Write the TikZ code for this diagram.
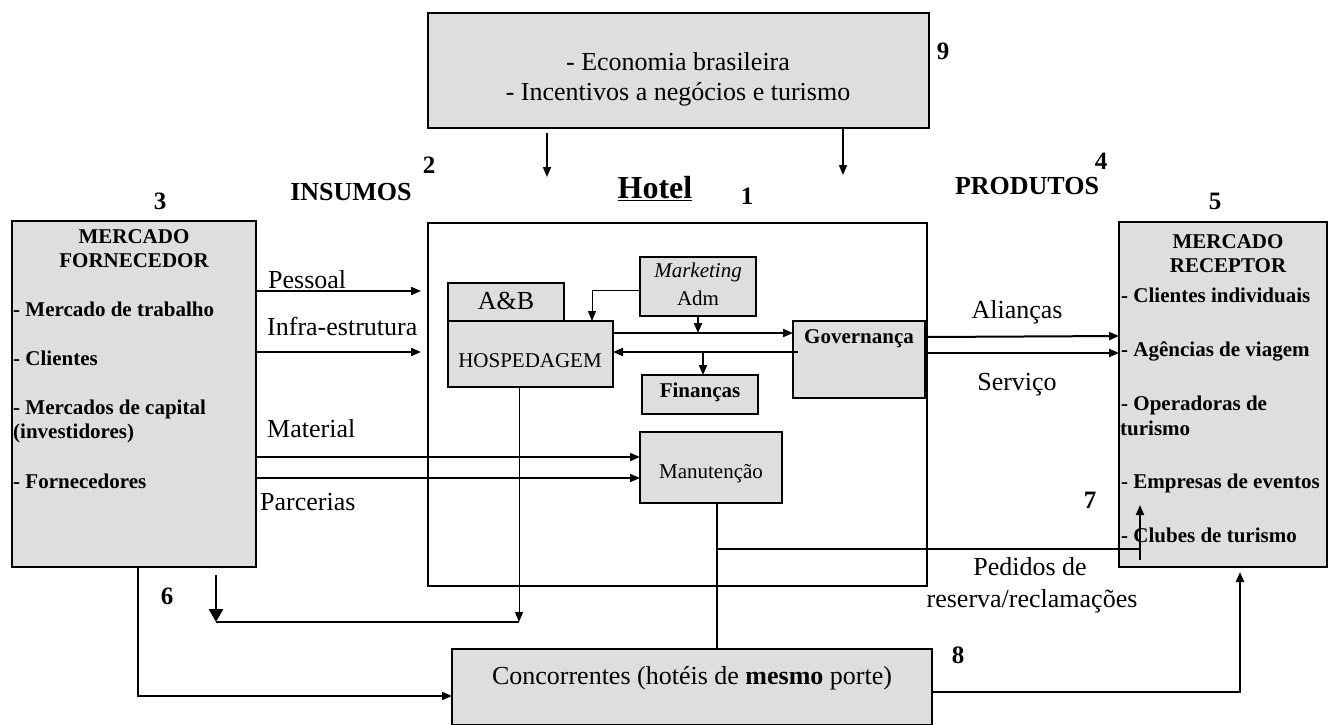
\documentclass[tikz,border=0pt]{standalone}
\usepackage{fontspec}
\setmainfont{Liberation Serif}
\usetikzlibrary{arrows.meta}
\definecolor{boxgray}{RGB}{222,222,222}
\newcommand{\sz}[1]{\fontsize{#1}{#1}\selectfont}

\begin{document}
\begin{tikzpicture}[x=1pt,y=-1pt,
  box/.style={draw, line width=2.5pt, fill=boxgray, inner sep=0pt, outer sep=0pt, anchor=north west},
  frame/.style={draw, line width=2pt, inner sep=0pt, outer sep=0pt, anchor=north west},
  txt/.style={inner sep=0pt, anchor=base, font=\sz{26}},
  txtl/.style={txt, anchor=base west},
  tsmall/.style={inner sep=0pt, anchor=base, font=\sz{21}},
  tsmallb/.style={inner sep=0pt, anchor=base, font=\bfseries\sz{21}},
  tsmallbl/.style={tsmallb, anchor=base west},
  numlbl/.style={inner sep=0pt, anchor=base, font=\bfseries\sz{25}},
  headlbl/.style={inner sep=0pt, anchor=base, font=\bfseries\sz{26}},
  conn/.style={line width=2pt, -{Triangle[length=10pt,width=8pt]}},
  connmid/.style={line width=1.6pt, -{Triangle[length=10pt,width=8pt]}},
  connthin/.style={line width=1pt, -{Triangle[length=10pt,width=8pt]}},
  connbig/.style={line width=2.5pt, -{Triangle[length=13pt,width=14pt]}},
  link/.style={line width=2pt}
]
\useasboundingbox (0,0) rectangle (1329,724);

% ---------- outer boxes ----------
\node[box, minimum width=501pt, minimum height=115pt] (T) at (428,13) {};
\node[frame, minimum width=499pt, minimum height=363pt] (H) at (428,223) {};
\node[box, minimum width=244pt, minimum height=346pt] (L) at (12,221) {};
\node[box, minimum width=208pt, minimum height=345pt] (R) at (1119,222) {};
\node[box, minimum width=480pt, minimum height=76pt] (C) at (452,649) {};

% ---------- departments inside the hotel ----------
\node[box, minimum width=116pt, minimum height=38pt] (AB) at (448,283) {};
\node[box, minimum width=165pt, minimum height=66pt] (Hosp) at (448,321) {};
\node[box, minimum width=116pt, minimum height=59pt] (Mkt) at (640,257) {};
\node[box, minimum width=116pt, minimum height=39pt] (Fin) at (642,375) {};
\node[box, minimum width=132pt, minimum height=77pt] (Gov) at (793,321) {};
\node[box, minimum width=142pt, minimum height=71pt] (Man) at (640,432) {};

% ---------- texts of the boxes ----------
\node[txt] (t1) at (678,70) {- Economia brasileira};
\node[txt] (t2) at (678,100) {- Incentivos a negócios e turismo};

\node[tsmallb] (l0a) at (134,243) {MERCADO};
\node[tsmallb] (l0b) at (134,267) {FORNECEDOR};
\node[tsmallbl] (l1) at (13,316) {- Mercado de trabalho};
\node[tsmallbl] (l2) at (13,365) {- Clientes};
\node[tsmallbl] (l3) at (13,414) {- Mercados de capital};
\node[tsmallbl] (l4) at (13,438) {(investidores)};
\node[tsmallbl] (l5) at (13,488) {- Fornecedores};

\node[tsmallb] (r0a) at (1228,248) {MERCADO};
\node[tsmallb] (r0b) at (1228,272) {RECEPTOR};
\node[tsmallbl] (r1) at (1121,302) {- Clientes individuais};
\node[tsmallbl] (r2) at (1121,356) {- Agências de viagem};
\node[tsmallbl] (r3) at (1121,410) {- Operadoras de};
\node[tsmallbl] (r4) at (1120,435) {turismo};
\node[tsmallbl] (r5) at (1121,488) {- Empresas de eventos};
\node[tsmallbl] (r6) at (1121,542) {- Clubes de turismo};

\node[txt] (tc) at (692,684) {Concorrentes (hotéis de \textbf{mesmo} porte)};

\node[txt] (tab) at (506,309) {A\&B};
\node[tsmall] (thosp) at (530,367) {HOSPEDAGEM};
\node[tsmall, font=\itshape\sz{21}] (tmkt) at (698,277) {Marketing};
\node[tsmall] (tadm) at (698,305) {Adm};
\node[tsmallb] (tfin) at (700,397) {Finanças};
\node[tsmallb] (tgov) at (859,343) {Governança};
\node[tsmall] (tman) at (711,478) {Manutenção};

% ---------- headings and numbers ----------
\node[headlbl] (hins) at (351,200) {INSUMOS};
\node[headlbl] (hprod) at (1027,194) {PRODUTOS};
\node[inner sep=0pt, anchor=base, font=\bfseries\sz{32}] (hhotel) at (655,198) {\underline{Hotel}};
\node[numlbl] (n1) at (747,204) {1};
\node[numlbl] (n2) at (429,173) {2};
\node[numlbl] (n3) at (160,209) {3};
\node[numlbl] (n4) at (1101,169) {4};
\node[numlbl] (n5) at (1215,209) {5};
\node[numlbl] (n6) at (167,604) {6};
\node[numlbl] (n7) at (1090,508) {7};
\node[numlbl] (n8) at (958,663) {8};
\node[numlbl] (n9) at (943,59) {9};

% ---------- connector labels ----------
\node[txtl] (lp) at (268,288) {Pessoal};
\node[txtl] (li) at (267,335) {Infra-estrutura};
\node[txtl] (lm) at (267,437) {Material};
\node[txtl] (lpa) at (260,510) {Parcerias};
\node[txt] (la) at (1017,318) {Alianças};
\node[txt] (ls) at (1017,390) {Serviço};
\node[txt] (lped1) at (1030,575) {Pedidos de};
\node[txt] (lped2) at (1032,607) {reserva/reclamações};

% ---------- free ends and junctions ----------
\coordinate (e9a) at (547,177);
\coordinate (e9b) at (843,175);
\coordinate (s6) at (216,575);
\coordinate (j6a) at (216,622);
\coordinate (j6b) at (519,622);
\coordinate (j7a) at (717,549);
\coordinate (j7b) at (1140,549);
\coordinate (s7) at (1140,560);
\coordinate (e7) at (1140,505);

% ---------- environment acting on the hotel ----------
\draw[conn, line width=1.6pt] (T.south -| e9a) ++(0,5) -- (e9a);
\draw[conn, line width=1.6pt] (T.south -| e9b) -- (e9b);

% ---------- inputs ----------
\draw[conn, shorten >=7pt] (L.east |- 0,291) -- (H.west |- 0,291);
\draw[conn, shorten >=7pt] (L.east |- 0,352) -- (H.west |- 0,352);
\draw[connmid] (L.east |- 0,457) -- (Man.west |- 0,457);
\draw[connmid] (L.east |- 0,478) -- (Man.west |- 0,478);

% ---------- inside the hotel ----------
\draw[connthin] (Mkt.west |- 0,290) -| (Hosp.north -| 592,0);
\draw[conn] (Mkt.south) -- (Mkt.south |- 0,333);
\draw[conn] (Hosp.east |- 0,333) -- (Gov.west |- 0,333);
\draw[conn] (Gov.west |- 0,352) ++(5,0) -- (Hosp.east |- 0,352);
\draw[conn] (Fin.north -| 703,0) ++(0,-23) -- (Fin.north -| 703,0);

% ---------- outputs ----------
\draw[conn] (Gov.east |- 0,337) -- (R.west |- 0,336);
\draw[conn] (Gov.east |- 0,353) -- (R.west |- 0,353);

% ---------- loop 6 ----------
\draw[connthin] (Hosp.south -| j6b) -- (j6b);
\draw[connbig] (s6) -- (j6a);
\draw[link, line width=2.5pt] (j6a) -- (j6b);
\draw[connmid] (L.south -| 138,0) |- (C.west |- 0,696);

% ---------- loop 7 ----------
\draw[link] (Man.south -| j7a) -- (C.north -| j7a);
\draw[link] (j7a) -- (j7b);
\draw[conn] (s7) -- (e7);

% ---------- competitors to the market ----------
\draw[conn, shorten >=5pt] (C.east |- 0,692) -| (R.south -| 1240,0);

\end{tikzpicture}
\end{document}
